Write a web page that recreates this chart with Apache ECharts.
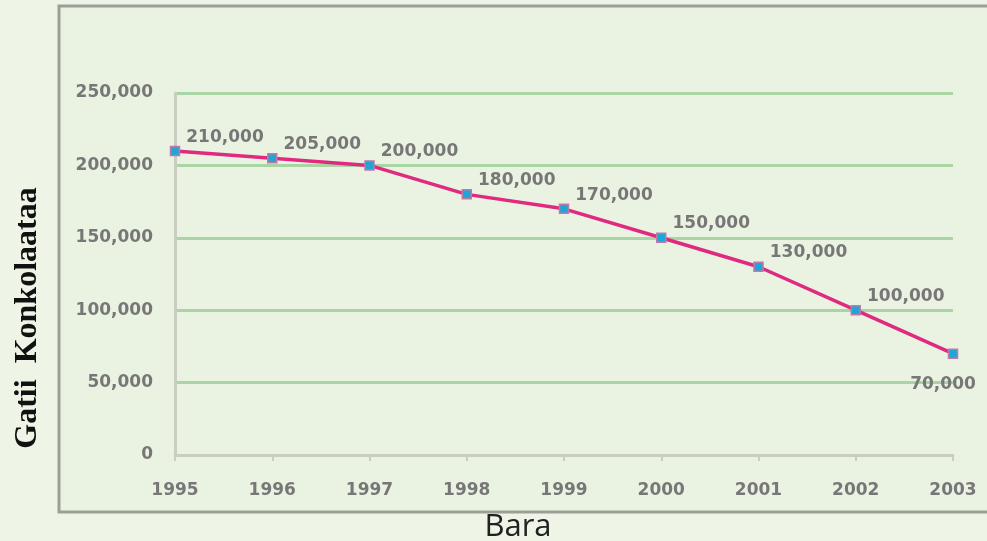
<!DOCTYPE html>
<html>
<head>
<meta charset="utf-8">
<script src="https://cdn.jsdelivr.net/npm/echarts@6/dist/echarts.min.js"></script>
<style>
    html, body { margin: 0; padding: 0; background: #eef5e7; }
    #chart { width: 987px; height: 541px; }
</style>
</head>
<body>
<div id="chart"></div>
<script>
// years on the x axis
const years = ["1995", "1996", "1997", "1998", "1999", "2000", "2001", "2002", "2003"];
// number of people (Gatii Konkolaataa)
const values = [210000, 205000, 200000, 180000, 170000, 150000, 130000, 100000, 70000];
const yTicks = [0, 50000, 100000, 150000, 200000, 250000];

const yTitle = "Gatii  Konkolaataa";
const xTitle = "Bara";

const fmt = v => v.toLocaleString("en-US");

let chart = echarts.init(document.getElementById("chart"));

// last point gets its label below, like the original
let lineData = values.map((v, i) => {
    if (i === values.length - 1) {
        return { value: v, label: { position: "bottom", offset: [-10, 12] } };
    }
    return v;
});

let tickFont = {
    color: "#777",
    fontSize: 17,
    fontWeight: "bold",
    fontFamily: "DejaVu Sans"
};

let option = {
    backgroundColor: "#eef5e7",
    animation: false,
    graphic: [
        {
            type: "rect",
            z: -10,
            shape: { x: 59, y: 6, width: 940, height: 506 },
            style: { fill: "#eaf3e2", stroke: "#9b9f96", lineWidth: 3 }
        },
        {
            type: "text",
            x: 28,
            y: 318,
            rotation: Math.PI / 2,
            style: {
                text: yTitle,
                font: "bold 32px 'Liberation Serif'",
                fill: "#111",
                align: "center",
                verticalAlign: "middle"
            }
        },
        {
            type: "text",
            x: 518,
            y: 527,
            style: {
                text: xTitle,
                font: "31px 'Open Sans'",
                fill: "#222",
                align: "center",
                verticalAlign: "middle"
            }
        }
    ],
    grid: {
        left: 175,
        right: 34,
        top: 93,
        bottom: 86
    },
    xAxis: {
        type: "category",
        data: years,
        boundaryGap: false,
        axisLine: { show: true, lineStyle: { color: "#c9cdc2", width: 3 } },
        axisTick: { show: true, length: 6, lineStyle: { color: "#c9cdc2", width: 2 } },
        axisLabel: Object.assign({ margin: 27 }, tickFont),
        splitLine: { show: false }
    },
    yAxis: {
        type: "value",
        min: yTicks[0],
        max: yTicks[yTicks.length - 1],
        interval: yTicks[1] - yTicks[0],
        axisLine: { show: true, lineStyle: { color: "#c9cdc2", width: 3 } },
        axisTick: { show: false },
        axisLabel: Object.assign({ margin: 22, formatter: fmt }, tickFont),
        splitLine: {
            show: true,
            lineStyle: { color: "#a9d5a5", width: 3 }
        }
    },
    series: [
        {
            type: "line",
            data: lineData,
            symbol: "rect",
            symbolSize: 9,
            lineStyle: { color: "#e02a80", width: 3.5 },
            itemStyle: { color: "#1ea7d6", borderColor: "#c07aa8", borderWidth: 1.5 },
            label: Object.assign({
                show: true,
                position: "top",
                offset: [50, 5],
                formatter: p => fmt(p.value)
            }, tickFont),
            z: 5
        }
    ]
};

chart.setOption(option);
</script>
</body>
</html>
